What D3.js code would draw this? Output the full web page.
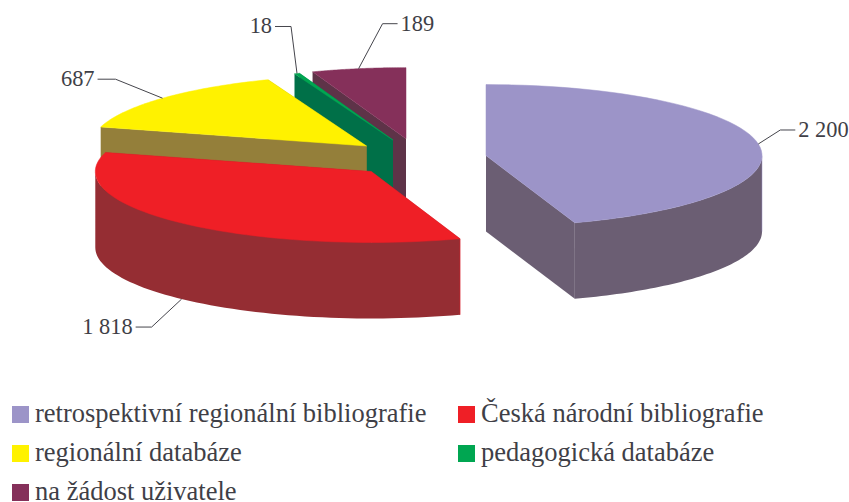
<!DOCTYPE html>
<html>
<head>
<meta charset="utf-8">
<script src="https://cdn.jsdelivr.net/npm/d3@7"></script>
<style>
  html, body { margin: 0; padding: 0; background: #fff; }
  svg { display: block; }
  text { font-family: "Liberation Serif", serif; fill: #3f3f47; }
</style>
</head>
<body>
<svg id="chart" width="849" height="502"></svg>
<script>
// chart data
const categories = ["retrospektivní regionální bibliografie", "Česká národní bibliografie",
                    "regionální databáze", "pedagogická databáze", "na žádost uživatele"];
const values     = [2200, 1818, 687, 18, 189];
const tickLabels = ["2 200", "1 818", "687", "18", "189"];

// colours of the top faces and of the sides
const topColors  = ["#9c94c8", "#ef1f26", "#fff200", "#00a651", "#85305a"];
const sideColors = ["#6b5e73", "#952d33", "#947f3a", "#007048", "#5e3348"];

// how far each slice is pulled out of the pie
const explode = [67.5, 70, 71.5, 76, 78];
// elbow of each leader line relative to the slice's anchor, then the flat stub
const elbows = [[22, -14], [-30, 28], [-47, -19], [-6, -47], [24, -45]];
const stubs  = [15, -16, -18, -16, 15];

const centre = {x: 419.4, y: 158.4};
const rx = 276, ry = 71, depth = 76;

const svg = d3.select("#chart");
const deg = Math.PI / 180;

const pie = d3.pie().value(d => d).sort(null);
const arcs = pie(values);

// the 3D view squeezes the back of the pie, so drawn angles are not the true ones
const viewAngle = d3.scaleLinear()
    .domain([0, 161.2, 294.4, 344.7, 346, 360].map(d => d * deg))
    .range([0, 161.2, 285.5, 339, 340, 360].map(d => d * deg));

const slices = arcs.map((a, i) => {
    const a0 = viewAngle(a.startAngle), a1 = viewAngle(a.endAngle), mid = (a0 + a1) / 2;
    return {
        i, a0, a1, mid,
        cx: centre.x + explode[i] * Math.sin(mid),
        cy: centre.y - explode[i] * Math.cos(mid) * ry / rx
    };
});

const rim = (s, t, z = 0) => [s.cx + rx * Math.sin(t), s.cy - ry * Math.cos(t) + z];
const samples = (t0, t1) => d3.range(0, 61).map(k => t0 + (t1 - t0) * k / 60);
const line = d3.line();

// back slices first
const order = [4, 3, 2, 1, 0];
const groups = svg.selectAll("g.slice")
    .data(order.map(i => slices[i]))
    .join("g")
    .attr("class", "slice");

groups.each(function(s) {
    const g = d3.select(this);
    const side = sideColors[s.i], top = topColors[s.i];

    // cut faces, the one further back first
    const cuts = [s.a0, s.a1].sort((p, q) => rim(s, p)[1] - rim(s, q)[1]);
    cuts.forEach(t => {
        g.append("path")
            .attr("d", line([[s.cx, s.cy], rim(s, t), rim(s, t, depth), [s.cx, s.cy + depth]]) + "Z")
            .attr("fill", side);
    });

    // outer wall, only the front half of the ellipse shows
    const w0 = Math.max(s.a0, 90 * deg), w1 = Math.min(s.a1, 270 * deg);
    if (w0 < w1) {
        const ts = samples(w0, w1);
        const pts = ts.map(t => rim(s, t)).concat(ts.slice().reverse().map(t => rim(s, t, depth)));
        g.append("path").attr("d", line(pts) + "Z").attr("fill", side);
        g.append("line")
            .attr("x1", rim(s, w0)[0]).attr("y1", rim(s, w0)[1])
            .attr("x2", rim(s, w0, depth)[0]).attr("y2", rim(s, w0, depth)[1])
            .attr("stroke", top).attr("stroke-opacity", 0.7).attr("stroke-width", 0.7);
    }

    // top face
    const topPts = [[s.cx, s.cy]].concat(samples(s.a0, s.a1).map(t => rim(s, t)));
    g.append("path")
        .attr("d", line(topPts) + "Z")
        .attr("fill", top)
        .attr("stroke", top)
        .attr("stroke-width", 0.5);
});

// data labels with leader lines
slices.forEach(s => {
    const z = s.i == 1 ? depth : 0;  // the label of the red slice hangs off its wall
    const a = rim(s, s.mid, z);
    const e = [a[0] + elbows[s.i][0], a[1] + elbows[s.i][1]];
    const end = [e[0] + stubs[s.i], e[1]];
    svg.append("path")
        .attr("d", line([a, e, end]))
        .attr("fill", "none")
        .attr("stroke", "#45454c")
        .attr("stroke-width", 1);
    svg.append("text")
        .attr("x", end[0] + (stubs[s.i] > 0 ? 3 : -3))
        .attr("y", e[1] + 7)
        .attr("text-anchor", stubs[s.i] > 0 ? "start" : "end")
        .attr("font-size", 22.4)
        .text(tickLabels[s.i].replace(" ", "\u00a0"));
});

// legend
const legendX = d3.scalePoint().domain([0, 1]).range([12, 458]);
const legendY = d3.scalePoint().domain([0, 1, 2]).range([406, 484]);
const legend = svg.selectAll("g.legend")
    .data(categories)
    .join("g")
    .attr("class", "legend")
    .attr("transform", (d, i) => `translate(${legendX(i % 2)},${legendY(Math.floor(i / 2))})`);

legend.append("rect")
    .attr("width", 17)
    .attr("height", 17)
    .attr("fill", (d, i) => topColors[i]);

legend.append("text")
    .attr("x", 23)
    .attr("y", 16)
    .attr("font-size", 26.5)
    .text(d => d);
</script>
</body>
</html>
